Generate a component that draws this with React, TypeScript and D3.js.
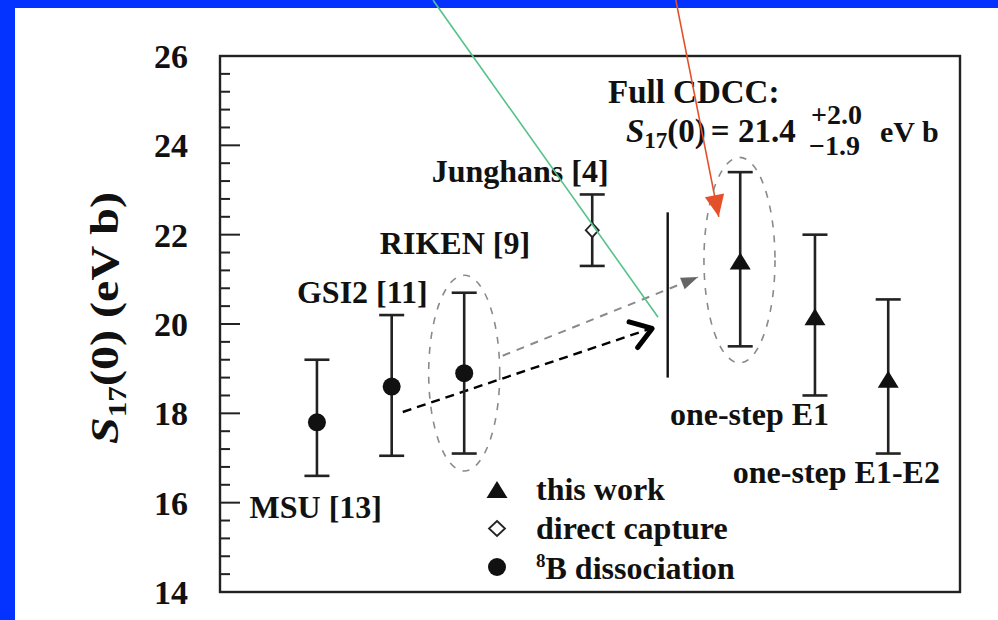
import React from 'react';
import * as d3 from 'd3';

const W = 998;
const H = 620;

// S17(0) values (eV b)
const names = ['MSU [13]', 'GSI2 [11]', 'RIKEN [9]', 'Junghans [4]', '', 'one-step E1', 'one-step E1-E2'];
const xPos = [1.31, 2.32, 3.3, 5.03, 7.03, 8.04, 9.03];
const values = [17.8, 18.6, 18.9, 22.1, 21.4, 20.15, 18.75];
const errHi = [19.2, 20.2, 20.7, 22.9, 23.4, 22.0, 20.55];
const errLo = [16.6, 17.05, 17.1, 21.3, 19.5, 18.4, 17.1];
const kinds = ['dissoc', 'dissoc', 'dissoc', 'direct', 'work', 'work', 'work'];

// where each point label sits (data units: left edge, baseline)
const labelX = [0.4, 1.04, 2.16, 2.86, 0, 6.08, 6.93];
const labelY = [15.66, 20.47, 21.57, 23.18, 0, 17.75, 16.45];

const legendKinds = ['work', 'direct', 'dissoc'];
const legendTexts = ['this work', 'direct capture', 'B dissociation'];

const yTicks = [14, 16, 18, 20, 22, 24, 26];

// annotation geometry, data units
const ellipseCx = [3.3, 7.02];
const ellipseCy = [18.9, 21.43];
const ellipseRx = [0.48, 0.48];
const ellipseRy = [2.19, 2.3];
const vLine = { x: 6.05, y0: 18.8, y1: 22.5 };
const grayArrow = { x0: 3.82, y0: 19.29, x1: 6.46, y1: 21.05 };
const blackArrow = { x0: 2.47, y0: 18.03, x1: 5.84, y1: 19.9 };
const greenLine = { x0: 2.88, y0: 27.25, x1: 5.92, y1: 20.15 };
const redLine = { x0: 6.16, y0: 27.25, x1: 6.74, y1: 22.4 };

const FONT = '"Liberation Serif", "Times New Roman", serif';
const INK = '#111';

function Marker({ kind, x, y, legend = false }: { kind: string; x: number; y: number; legend?: boolean }) {
  if (kind === 'dissoc') return <circle cx={x} cy={y} r={9} fill={INK} />;
  if (kind === 'direct')
    return (
      <path
        d={legend ? 'M0,-7.5 L8,0 L0,7.5 L-8,0 Z' : 'M0,-7 L6.5,0 L0,7 L-6.5,0 Z'}
        transform={`translate(${x},${y})`}
        fill="#fff"
        stroke="#222"
        strokeWidth={1.8}
      />
    );
  return <path d="M0,-9 L10.5,8 L-10.5,8 Z" transform={`translate(${x},${y})`} fill={INK} />;
}

export default function App() {
  const x = d3.scaleLinear().domain([0, 10]).range([220, 960]);
  const y = d3.scaleLinear().domain([14, 26]).range([592, 56]);

  const minor = d3.range(0, 31).map(i => ({ v: 14 + i * 0.4, major: i % 5 === 0 }));

  const arrowHead = (x0: number, y0: number, x1: number, y1: number, len: number, spread: number) => {
    const a = Math.atan2(y(y1) - y(y0), x(x1) - x(x0));
    const tx = x(x1), ty = y(y1);
    const p1 = [tx - len * Math.cos(a - spread), ty - len * Math.sin(a - spread)];
    const p2 = [tx - len * Math.cos(a + spread), ty - len * Math.sin(a + spread)];
    return { tx, ty, p1, p2 };
  };

  const gh = arrowHead(grayArrow.x0, grayArrow.y0, grayArrow.x1, grayArrow.y1, 18, 0.35);
  const bh = arrowHead(blackArrow.x0, blackArrow.y0, blackArrow.x1, blackArrow.y1, 24, 0.6);
  const rh = arrowHead(redLine.x0, redLine.y0, redLine.x1, redLine.y1, 24, 0.42);

  return (
    <svg
      width={W}
      height={H}
      style={{ position: 'absolute', left: 0, top: 0, display: 'block' }}
      fontFamily={FONT}
      fontWeight="bold"
    >
      <rect width={W} height={H} fill="#0433ff" />
      <rect x={15} y={8} width={W - 15} height={H - 8} fill="#fff" />

      {/* frame */}
      <rect x={x(0)} y={y(26)} width={x(10) - x(0)} height={y(14) - y(26)} fill="none" stroke="#222" strokeWidth={2.4} />

      {/* y ticks, inward */}
      {minor.map((t, i) => (
        <line key={i} x1={x(0)} x2={x(0) + (t.major ? 20 : 10)} y1={y(t.v)} y2={y(t.v)} stroke="#222" strokeWidth={2} />
      ))}
      {yTicks.map(t => (
        <text key={t} x={188} y={y(t)} dy="0.35em" textAnchor="end" fontSize={34} fill={INK}>
          {t}
        </text>
      ))}

      {/* y label */}
      <text
        transform={`translate(118,${(y(14) + y(26)) / 2 - 6}) rotate(-90)`}
        textAnchor="middle"
        fontSize={40}
        fill={INK}
        textLength={252}
        lengthAdjust="spacingAndGlyphs"
      >
        <tspan fontStyle="italic">S</tspan>
        <tspan fontSize={26} dy={8}>17</tspan>
        <tspan dy={-8}>(0) (eV b)</tspan>
      </text>

      {/* dashed ellipses */}
      {ellipseCx.map((cx, i) => (
        <ellipse
          key={i}
          cx={x(cx)}
          cy={y(ellipseCy[i])}
          rx={x(ellipseRx[i]) - x(0)}
          ry={y(14) - y(14 + ellipseRy[i])}
          fill="none"
          stroke="#8a8a8a"
          strokeWidth={1.6}
          strokeDasharray="7 8"
        />
      ))}

      {/* gray dashed arrow */}
      <line
        x1={x(grayArrow.x0)} y1={y(grayArrow.y0)} x2={gh.tx} y2={gh.ty}
        stroke="#8a8a8a" strokeWidth={2} strokeDasharray="8 7"
      />
      <path d={`M${gh.tx},${gh.ty} L${gh.p1} L${gh.p2} Z`} fill="#666" />

      {/* black dashed arrow */}
      <line
        x1={x(blackArrow.x0)} y1={y(blackArrow.y0)} x2={bh.tx - 4} y2={bh.ty + 1}
        stroke="#000" strokeWidth={2.4} strokeDasharray="9 6"
      />
      <path d={`M${bh.p1} L${bh.tx},${bh.ty} L${bh.p2}`} fill="none" stroke="#000" strokeWidth={5} strokeLinecap="round" strokeLinejoin="round" />

      {/* vertical separator */}
      <line x1={x(vLine.x)} x2={x(vLine.x)} y1={y(vLine.y0)} y2={y(vLine.y1)} stroke={INK} strokeWidth={2.4} />

      {/* error bars and markers */}
      {values.map((v, i) => (
        <g key={i}>
          <line x1={x(xPos[i])} x2={x(xPos[i])} y1={y(errHi[i])} y2={y(errLo[i])} stroke="#222" strokeWidth={2.6} />
          <line x1={x(xPos[i]) - 12.5} x2={x(xPos[i]) + 12.5} y1={y(errHi[i])} y2={y(errHi[i])} stroke="#222" strokeWidth={2.6} />
          <line x1={x(xPos[i]) - 12.5} x2={x(xPos[i]) + 12.5} y1={y(errLo[i])} y2={y(errLo[i])} stroke="#222" strokeWidth={2.6} />
          <Marker kind={kinds[i]} x={x(xPos[i])} y={y(v)} />
        </g>
      ))}

      {/* point labels */}
      {names.map((n, i) =>
        n ? (
          <text key={i} x={x(labelX[i])} y={y(labelY[i])} fontSize={32} fill={INK}>
            {n}
          </text>
        ) : null
      )}

      {/* Full CDCC result */}
      <text x={608} y={103} fontSize={33} fill={INK}>Full CDCC:</text>
      <text x={626} y={142} fontSize={33} fill={INK}>
        <tspan fontStyle="italic">S</tspan>
        <tspan fontSize={23} dy={6}>17</tspan>
        <tspan dy={-6}>(0)</tspan>
        <tspan dx={5}>= 21.4</tspan>
      </text>
      <text x={811} y={124} fontSize={28} fill={INK}>+2.0</text>
      <text x={809} y={155} fontSize={28} fill={INK}>−1.9</text>
      <text x={880} y={142} fontSize={30} fill={INK}>eV b</text>

      {/* legend */}
      {legendTexts.map((t, i) => {
        const ly = 490 + i * 38.5;
        return (
          <g key={t}>
            <Marker kind={legendKinds[i]} x={497} y={ly} legend />
            {legendKinds[i] === 'dissoc' ? (
              <text x={536} y={ly + 12} fontSize={32} fill={INK}>
                <tspan fontSize={19} dy={-12}>8</tspan>
                <tspan dy={12}>{t}</tspan>
              </text>
            ) : (
              <text x={536} y={ly + 10} fontSize={32} fill={INK}>{t}</text>
            )}
          </g>
        );
      })}

      {/* overlaid green and red pointers */}
      <line x1={x(greenLine.x0)} y1={y(greenLine.y0)} x2={x(greenLine.x1)} y2={y(greenLine.y1)} stroke="#55c28a" strokeWidth={1.6} />
      <line x1={x(redLine.x0)} y1={y(redLine.y0)} x2={rh.tx} y2={rh.ty} stroke="#e4502a" strokeWidth={1.6} />
      <path d={`M${rh.tx},${rh.ty} L${rh.p1} L${rh.p2} Z`} fill="#e4502a" />
    </svg>
  );
}
